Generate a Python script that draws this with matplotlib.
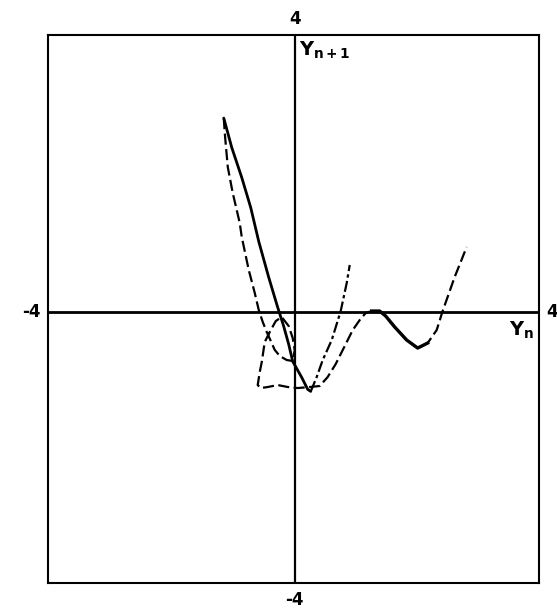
import matplotlib
matplotlib.use("Agg")
import matplotlib.pyplot as plt

plt.rcParams['mathtext.fontset'] = 'dejavusans'

# Return map Y(n+1) versus Y(n)
# Branch A: steep solid branch from the top cusp down to the trough, then up
a_yn = [-1.156, -1.026, -0.863, -0.717, -0.586, -0.423, -0.277, -0.179, -0.098,
        -0.033, 0.114, 0.212, 0.261, 0.358, 0.456, 0.603, 0.749, 0.847, 0.896]
a_yn1 = [2.837, 2.407, 1.969, 1.531, 1.035, 0.510, 0.072, -0.204, -0.466,
         -0.715, -0.949, -1.124, -1.153, -0.943, -0.695, -0.403, 0.020, 0.429, 0.692]
a_split = 12  # index of the trough: solid before, dash-dot after

# Branch B: dashed branch through the small loop, the flat bottom and the right wave
b_yn = [-1.156, -1.140, -1.091, -1.010, -0.945, -0.896, -0.863, -0.749, -0.651,
        -0.586, -0.521, -0.456, -0.391, -0.326, -0.244, -0.130, -0.033, 0.000,
        -0.033, -0.098, -0.212, -0.309, -0.407, -0.489, -0.537, -0.570, -0.603,
        -0.554, -0.440, -0.277, -0.114, 0.049, 0.244, 0.407, 0.537, 0.668, 0.782,
        0.945, 1.059, 1.156, 1.254, 1.384, 1.482, 1.629, 1.824, 2.003, 2.166,
        2.313, 2.410, 2.508, 2.606, 2.704, 2.801]
b_yn1 = [2.837, 2.619, 2.123, 1.743, 1.495, 1.305, 1.100, 0.619, 0.283,
         0.035, -0.140, -0.286, -0.415, -0.547, -0.636, -0.695, -0.709, -0.550,
         -0.374, -0.199, -0.067, -0.126, -0.286, -0.432, -0.724, -0.870, -1.060,
         -1.104, -1.089, -1.060, -1.089, -1.104, -1.089, -1.074, -0.943, -0.753, -0.549,
         -0.257, -0.111, -0.009, 0.020, 0.020, -0.053, -0.213, -0.403, -0.520, -0.447,
         -0.257, 0.020, 0.268, 0.517, 0.736, 0.955]
b_thick = (40, 46)  # stretch along the axis and into the dip drawn heavier

limits = [-4, 4]

fig = plt.figure(figsize=(5.57, 6.15), dpi=100)
ax = fig.add_axes([48 / 557, (615 - 583) / 615, 491 / 557, 548 / 615])
ax.set_xlim(-4.02, 3.98)
ax.set_ylim(-3.95, 4.05)

# axes through the origin
ax.axhline(0, color='black', lw=2.0, zorder=1)
ax.axvline(0, color='black', lw=1.6, zorder=1)

ax.plot(a_yn[:a_split + 1], a_yn1[:a_split + 1], color='black', lw=2.0,
        solid_capstyle='round', solid_joinstyle='round', zorder=3)
ax.plot(a_yn[a_split:], a_yn1[a_split:], color='black', lw=1.6,
        linestyle=(0, (5, 1.5, 1.5, 1.5)), zorder=3)

ax.plot(b_yn, b_yn1, color='black', lw=1.6, linestyle=(0, (5, 2)), zorder=3)
ax.plot(b_yn[b_thick[0]:b_thick[1] + 1], b_yn1[b_thick[0]:b_thick[1] + 1],
        color='black', lw=2.4, solid_joinstyle='round', zorder=3)

ax.set_xticks([])
ax.set_yticks([])
for s in ax.spines.values():
    s.set_linewidth(1.5)

bold = dict(fontsize=12, fontweight='bold', color='black', family='DejaVu Sans')
ax.text(0, 1.012, f'{limits[1]}', transform=ax.get_xaxis_transform(),
        ha='center', va='bottom', **bold)
ax.text(0, -0.014, f'{limits[0]}', transform=ax.get_xaxis_transform(),
        ha='center', va='top', **bold)
ax.text(-0.015, 0, f'{limits[0]}', transform=ax.get_yaxis_transform(),
        ha='right', va='center', **bold)
ax.text(1.015, 0, f'{limits[1]}', transform=ax.get_yaxis_transform(),
        ha='left', va='center', **bold)

ax.text(0.07, 3.98, r'$\mathbf{Y_{n+1}}$', ha='left', va='top', fontsize=14)
ax.text(3.90, -0.10, r'$\mathbf{Y_n}$', ha='right', va='top', fontsize=14)

fig.savefig('out.png', dpi=100)
